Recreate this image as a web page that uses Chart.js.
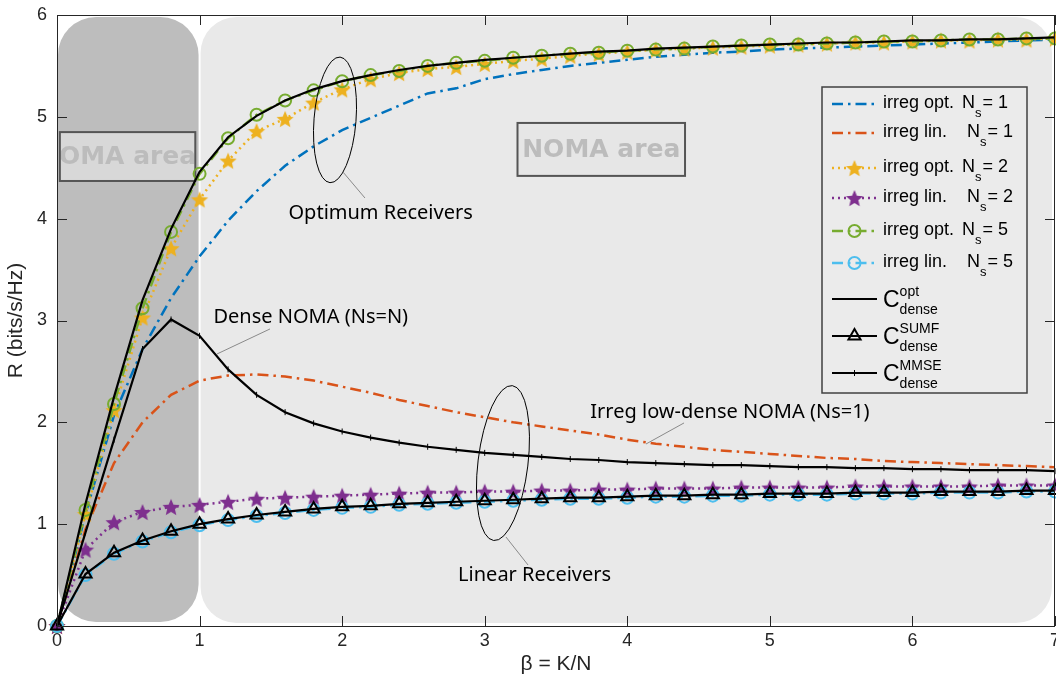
<!DOCTYPE html>
<html>
<head>
<meta charset="utf-8">
<script src="https://cdn.jsdelivr.net/npm/chart.js@4.4.1/dist/chart.umd.min.js"></script>
<style>
  html, body { margin: 0; padding: 0; background: #fff; }
  canvas { display: block; }
</style>
</head>
<body>
<canvas id="chart" width="1056" height="681"></canvas>
<script>
// beta = K/N values (markers every 0.2)
const beta = [0, 0.2, 0.4, 0.6, 0.8, 1.0, 1.2, 1.4, 1.6, 1.8, 2.0, 2.2, 2.4, 2.6, 2.8, 3.0, 3.2, 3.4,
  3.6, 3.8, 4.0, 4.2, 4.4, 4.6, 4.8, 5.0, 5.2, 5.4, 5.6, 5.8, 6.0, 6.2, 6.4, 6.6, 6.8, 7.0];

// rates R (bits/s/Hz)
const irregOptNs1 = [0, 1.10, 2.07, 2.72, 3.22, 3.63, 3.98, 4.27, 4.52, 4.71, 4.87, 4.99, 5.11, 5.23, 5.28, 5.37, 5.42, 5.46,
  5.50, 5.53, 5.56, 5.59, 5.61, 5.63, 5.64, 5.66, 5.67, 5.68, 5.69, 5.70, 5.71, 5.72, 5.73, 5.74, 5.75, 5.76];
const irregLinNs1 = [0, 0.95, 1.60, 2.00, 2.27, 2.41, 2.46, 2.47, 2.45, 2.41, 2.35, 2.29, 2.22, 2.16, 2.10, 2.05, 2.00, 1.96,
  1.92, 1.88, 1.83, 1.79, 1.76, 1.73, 1.71, 1.69, 1.67, 1.65, 1.64, 1.62, 1.61, 1.60, 1.59, 1.58, 1.57, 1.56];
const irregOptNs2 = [0, 1.10, 2.12, 3.03, 3.71, 4.19, 4.57, 4.86, 4.98, 5.14, 5.27, 5.37, 5.43, 5.47, 5.49, 5.52, 5.55, 5.57,
  5.60, 5.62, 5.64, 5.66, 5.67, 5.68, 5.69, 5.70, 5.71, 5.72, 5.73, 5.73, 5.74, 5.75, 5.75, 5.76, 5.76, 5.77];
const irregLinNs2 = [0, 0.75, 1.02, 1.12, 1.17, 1.19, 1.22, 1.25, 1.26, 1.27, 1.28, 1.29, 1.30, 1.31, 1.31, 1.32, 1.32, 1.33,
  1.33, 1.34, 1.34, 1.35, 1.35, 1.35, 1.36, 1.36, 1.36, 1.36, 1.37, 1.37, 1.37, 1.37, 1.37, 1.38, 1.38, 1.38];
const irregOptNs5 = [0, 1.14, 2.18, 3.12, 3.87, 4.44, 4.79, 5.02, 5.16, 5.26, 5.35, 5.41, 5.45, 5.50, 5.53, 5.55, 5.58, 5.60,
  5.62, 5.63, 5.65, 5.66, 5.67, 5.69, 5.70, 5.71, 5.71, 5.72, 5.73, 5.74, 5.74, 5.75, 5.76, 5.76, 5.77, 5.77];
const irregLinNs5 = [0, 0.50, 0.71, 0.83, 0.92, 0.99, 1.04, 1.08, 1.11, 1.14, 1.16, 1.17, 1.19, 1.20, 1.21, 1.22, 1.23, 1.24,
  1.25, 1.25, 1.26, 1.27, 1.27, 1.28, 1.28, 1.29, 1.29, 1.29, 1.30, 1.30, 1.30, 1.31, 1.31, 1.31, 1.32, 1.32];
const cOptDense = [0, 1.20, 2.25, 3.20, 3.90, 4.46, 4.80, 5.01, 5.16, 5.27, 5.35, 5.41, 5.46, 5.50, 5.53, 5.56, 5.58, 5.60,
  5.62, 5.64, 5.65, 5.67, 5.68, 5.69, 5.70, 5.71, 5.72, 5.73, 5.73, 5.74, 5.75, 5.75, 5.76, 5.76, 5.77, 5.78];
const cSumfDense = [0, 0.51, 0.72, 0.84, 0.93, 1.00, 1.05, 1.09, 1.12, 1.15, 1.17, 1.18, 1.20, 1.21, 1.22, 1.23, 1.24, 1.25,
  1.26, 1.26, 1.27, 1.28, 1.28, 1.29, 1.29, 1.30, 1.30, 1.30, 1.31, 1.31, 1.31, 1.32, 1.32, 1.32, 1.33, 1.33];
const cMmseDense = [0, 0.92, 1.83, 2.72, 3.01, 2.85, 2.52, 2.27, 2.10, 1.99, 1.91, 1.85, 1.80, 1.76, 1.73, 1.70, 1.68, 1.66,
  1.64, 1.63, 1.61, 1.60, 1.59, 1.58, 1.58, 1.57, 1.56, 1.56, 1.55, 1.55, 1.54, 1.54, 1.53, 1.53, 1.53, 1.52];

const xTicks = [0, 1, 2, 3, 4, 5, 6, 7];
const yTicks = [0, 1, 2, 3, 4, 5, 6];

const TICK_FONT = '"Liberation Sans", Arial, Helvetica, sans-serif';
const NOTE_FONT = '"Noto Sans", "DejaVu Sans", sans-serif';
const DASHDOT = [11, 5, 2.5, 5];
const DOTTED = [2, 4];

// filled 5-point star used as marker
function makeStar(color, r) {
  const c = document.createElement('canvas');
  const s = Math.ceil(r * 2 + 4);
  c.width = c.height = s;
  const g = c.getContext('2d');
  g.beginPath();
  for (let i = 0; i < 10; i++) {
    const a = -Math.PI / 2 + i * Math.PI / 5;
    const rr = i % 2 ? r * 0.45 : r;
    g.lineTo(s / 2 + rr * Math.cos(a), s / 2 + 1 + rr * Math.sin(a));
  }
  g.closePath();
  g.fillStyle = color;
  g.fill();
  return c;
}
const starYellow = makeStar('#EDB120', 9);
const starPurple = makeStar('#7E2F8E', 9);

const series = [
  { key: 'optNs1', data: irregOptNs1, color: '#0072BD', dash: DASHDOT, width: 2.5, marker: null },
  { key: 'linNs1', data: irregLinNs1, color: '#D95319', dash: DASHDOT, width: 2.5, marker: null },
  { key: 'optNs2', data: irregOptNs2, color: '#EDB120', dash: DOTTED, width: 2.5, marker: 'starY' },
  { key: 'linNs2', data: irregLinNs2, color: '#7E2F8E', dash: DOTTED, width: 2.5, marker: 'starP' },
  { key: 'optNs5', data: irregOptNs5, color: '#77AC30', dash: DASHDOT, width: 2.5, marker: 'circle' },
  { key: 'linNs5', data: irregLinNs5, color: '#4DBEEE', dash: DASHDOT, width: 2.5, marker: 'circle' },
  { key: 'cOpt', data: cOptDense, color: '#000000', dash: [], width: 2.2, marker: null },
  { key: 'cSumf', data: cSumfDense, color: '#000000', dash: [], width: 2.2, marker: 'triangle' },
  { key: 'cMmse', data: cMmseDense, color: '#000000', dash: [], width: 2.2, marker: 'cross' }
];

function pointOpts(m, color) {
  if (m === 'starY') return { pointStyle: starYellow, pointRadius: 9 };
  if (m === 'starP') return { pointStyle: starPurple, pointRadius: 9 };
  if (m === 'circle') return { pointStyle: 'circle', pointRadius: 6, pointBorderWidth: 2, pointBackgroundColor: 'rgba(0,0,0,0)', pointBorderColor: color };
  if (m === 'triangle') return { pointStyle: 'triangle', pointRadius: 7, pointBorderWidth: 2, pointBackgroundColor: 'rgba(0,0,0,0)', pointBorderColor: color };
  if (m === 'cross') return { pointStyle: 'line', rotation: 90, pointRadius: 3, pointBorderWidth: 1, pointBorderColor: color };
  return { pointRadius: 0 };
}

const datasets = series.map((s, i) => Object.assign({
  label: s.key,
  data: beta.map((b, j) => ({ x: b, y: s.data[j] })),
  borderColor: s.color,
  borderWidth: s.width,
  borderDash: s.dash,
  tension: 0,
  fill: false,
  clip: false,
  order: series.length - i
}, pointOpts(s.marker, s.color)));

// annotation items in data coordinates
const areaBoxes = [
  { text: 'OMA area', x0: 0.02, x1: 0.97, y0: 4.85, y1: 4.37, fill: '#d8d8d8' },
  { text: 'NOMA area', x0: 3.23, x1: 4.405, y0: 4.94, y1: 4.42, fill: '#e6e6e6' }
];
const notes = [
  { text: 'Optimum Receivers', x: 2.27, y: 4.05 },
  { text: 'Dense NOMA (Ns=N)', x: 1.78, y: 3.03 },
  { text: 'Irreg low-dense NOMA (Ns=1)', x: 4.72, y: 2.10 },
  { text: 'Linear Receivers', x: 3.35, y: 0.50 }
];
const leaders = [
  [2.006, 4.458, 2.160, 4.203],
  [1.494, 2.917, 1.122, 2.671],
  [4.398, 1.994, 4.131, 1.787],
  [3.149, 0.874, 3.304, 0.599]
];
const ellipses = [
  { x: 1.95, y: 4.97, rx: 21, ry: 63, rot: 0.08 },
  { x: 3.128, y: 1.60, rx: 25, ry: 78, rot: 0.12 }
];

function roundRect(ctx, x, y, w, h, r) {
  ctx.beginPath();
  ctx.moveTo(x + r, y);
  ctx.arcTo(x + w, y, x + w, y + h, r);
  ctx.arcTo(x + w, y + h, x, y + h, r);
  ctx.arcTo(x, y + h, x, y, r);
  ctx.arcTo(x, y, x + w, y, r);
  ctx.closePath();
}

const backgroundPlugin = {
  id: 'regions',
  beforeDatasetsDraw(chart) {
    const { ctx, chartArea: a, scales: { x, y } } = chart;
    const x1 = x.getPixelForValue(1);
    ctx.save();
    ctx.fillStyle = '#bdbdbd';
    roundRect(ctx, a.left + 1, a.top + 2, x1 - a.left - 2, a.bottom - a.top - 6, 38);
    ctx.fill();
    ctx.fillStyle = '#e9e9e9';
    roundRect(ctx, x1 + 1, a.top + 2, a.right - x1 - 4, a.bottom - a.top - 5, 36);
    ctx.fill();

    areaBoxes.forEach(b => {
      const l = x.getPixelForValue(b.x0), r = x.getPixelForValue(b.x1);
      const t = y.getPixelForValue(b.y0), btm = y.getPixelForValue(b.y1);
      ctx.fillStyle = b.fill;
      ctx.fillRect(l, t, r - l, btm - t);
      ctx.save();
      ctx.beginPath();
      ctx.rect(l, t, r - l, btm - t);
      ctx.clip();
      ctx.fillStyle = '#bcbcbc';
      ctx.font = 'bold 25px "DejaVu Sans", Verdana, sans-serif';
      ctx.textAlign = 'center';
      ctx.textBaseline = 'middle';
      ctx.fillText(b.text, (l + r) / 2, (t + btm) / 2 + 1);
      ctx.restore();
      ctx.strokeStyle = '#555555';
      ctx.lineWidth = 2;
      ctx.strokeRect(l, t, r - l, btm - t);
    });
    ctx.restore();
  },
  afterDatasetsDraw(chart) {
    const { ctx, scales: { x, y } } = chart;
    ctx.save();
    ctx.strokeStyle = '#000';
    ctx.lineWidth = 1;
    ellipses.forEach(e => {
      ctx.beginPath();
      ctx.ellipse(x.getPixelForValue(e.x), y.getPixelForValue(e.y), e.rx, e.ry, e.rot, 0, Math.PI * 2);
      ctx.stroke();
    });
    ctx.strokeStyle = '#8a8a8a';
    leaders.forEach(l => {
      ctx.beginPath();
      ctx.moveTo(x.getPixelForValue(l[0]), y.getPixelForValue(l[1]));
      ctx.lineTo(x.getPixelForValue(l[2]), y.getPixelForValue(l[3]));
      ctx.stroke();
    });
    ctx.fillStyle = '#000';
    ctx.font = '20px ' + NOTE_FONT;
    ctx.textAlign = 'center';
    ctx.textBaseline = 'middle';
    notes.forEach(n => ctx.fillText(n.text, x.getPixelForValue(n.x), y.getPixelForValue(n.y)));
    ctx.restore();
  }
};

// legend entries (drawn by hand to get the sub/superscripts)
const legendEntries = [
  { pre: 'irreg opt.', nOff: 79, ns: '1', y: 104 },
  { pre: 'irreg lin.', nOff: 84, ns: '1', y: 133 },
  { pre: 'irreg opt.', nOff: 79, ns: '2', y: 168 },
  { pre: 'irreg lin.', nOff: 84, ns: '2', y: 198 },
  { pre: 'irreg opt.', nOff: 79, ns: '5', y: 231 },
  { pre: 'irreg lin.', nOff: 84, ns: '5', y: 263 },
  { sup: 'opt', y: 299 },
  { sup: 'SUMF', y: 336 },
  { sup: 'MMSE', y: 373 }
];

function drawMarker(ctx, m, color, cx, cy) {
  ctx.save();
  ctx.setLineDash([]);
  if (m === 'starY' || m === 'starP') {
    const img = m === 'starY' ? starYellow : starPurple;
    ctx.drawImage(img, cx - img.width / 2, cy - img.height / 2);
  } else if (m === 'circle') {
    ctx.strokeStyle = color; ctx.lineWidth = 2;
    ctx.beginPath(); ctx.arc(cx, cy, 6, 0, Math.PI * 2); ctx.stroke();
  } else if (m === 'triangle') {
    ctx.strokeStyle = color; ctx.lineWidth = 2;
    const r = 7;
    ctx.beginPath();
    ctx.moveTo(cx, cy - r);
    ctx.lineTo(cx + r * 0.866, cy + r * 0.5);
    ctx.lineTo(cx - r * 0.866, cy + r * 0.5);
    ctx.closePath(); ctx.stroke();
  } else if (m === 'cross') {
    ctx.strokeStyle = color; ctx.lineWidth = 1;
    ctx.beginPath(); ctx.moveTo(cx, cy - 3); ctx.lineTo(cx, cy + 3); ctx.stroke();
  }
  ctx.restore();
}

const framePlugin = {
  id: 'frameAndLegend',
  afterDraw(chart) {
    const { ctx, chartArea: a, scales: { x, y } } = chart;
    ctx.save();
    // axes box with inward ticks
    ctx.strokeStyle = '#262626';
    ctx.lineWidth = 1;
    ctx.strokeRect(a.left + 0.5, a.top + 0.5, a.right - a.left - 1, a.bottom - a.top);
    ctx.beginPath();
    xTicks.forEach(v => {
      const px = Math.round(x.getPixelForValue(v)) + 0.5;
      ctx.moveTo(px, a.bottom); ctx.lineTo(px, a.bottom - 10);
      ctx.moveTo(px, a.top); ctx.lineTo(px, a.top + 10);
    });
    yTicks.forEach(v => {
      const py = Math.round(y.getPixelForValue(v)) + 0.5;
      ctx.moveTo(a.left, py); ctx.lineTo(a.left + 10, py);
      ctx.moveTo(a.right, py); ctx.lineTo(a.right - 10, py);
    });
    ctx.stroke();
    // x tick labels (drawn here so the last one does not pad the plot area)
    ctx.fillStyle = '#262626';
    ctx.font = '18px ' + TICK_FONT;
    ctx.textAlign = 'center';
    ctx.textBaseline = 'middle';
    xTicks.forEach(v => ctx.fillText(String(v), x.getPixelForValue(v), a.bottom + 15));

    // legend
    const L = 822, T = 87, R = 1027, B = 393;
    ctx.fillStyle = '#ebebeb';
    ctx.fillRect(L, T, R - L, B - T);
    ctx.strokeStyle = '#404040';
    ctx.lineWidth = 1.5;
    ctx.strokeRect(L, T, R - L, B - T);
    const x0 = 883;
    legendEntries.forEach((e, i) => {
      const s = series[i];
      ctx.save();
      ctx.strokeStyle = s.color;
      ctx.lineWidth = s.width;
      ctx.setLineDash(s.dash);
      ctx.beginPath(); ctx.moveTo(832, e.y); ctx.lineTo(877, e.y); ctx.stroke();
      ctx.restore();
      drawMarker(ctx, s.marker, s.color, 854.5, e.y);
      ctx.fillStyle = '#000';
      ctx.textAlign = 'left';
      ctx.textBaseline = 'alphabetic';
      if (e.pre) {
        ctx.font = '18px ' + TICK_FONT;
        ctx.fillText(e.pre, x0, e.y + 4);
        const nx = x0 + e.nOff;
        ctx.fillText('N', nx, e.y + 4);
        const sx = nx + ctx.measureText('N').width;
        ctx.font = '13px ' + TICK_FONT;
        ctx.fillText('s', sx, e.y + 13);
        const ex = sx + ctx.measureText('s').width + 1;
        ctx.font = '18px ' + TICK_FONT;
        ctx.fillText('= ' + e.ns, ex, e.y + 4);
      } else {
        ctx.font = '23px ' + TICK_FONT;
        ctx.fillText('C', x0, e.y + 8);
        const cx = x0 + ctx.measureText('C').width;
        ctx.font = '14px ' + TICK_FONT;
        ctx.fillText(e.sup, cx, e.y - 3);
        ctx.fillText('dense', cx, e.y + 15);
      }
    });
    ctx.restore();
  }
};

new Chart(document.getElementById('chart').getContext('2d'), {
  type: 'line',
  data: { datasets: datasets },
  options: {
    responsive: false,
    animation: false,
    layout: { autoPadding: false, padding: { top: 15, right: 1, left: 0, bottom: 0 } },
    plugins: { legend: { display: false }, tooltip: { enabled: false } },
    scales: {
      x: {
        type: 'linear',
        min: 0,
        max: 7,
        afterBuildTicks: s => { s.ticks = xTicks.map(v => ({ value: v })); },
        ticks: { display: false },
        grid: { display: false, drawTicks: false },
        border: { display: false },
        title: { display: true, text: 'β = K/N', font: { family: TICK_FONT, size: 21 }, color: '#262626', padding: { top: 0, bottom: 4 } },
        afterFit: s => { s.height = 55; s.paddingLeft = 0; s.paddingRight = 0; }
      },
      y: {
        type: 'linear',
        min: 0,
        max: 6,
        afterBuildTicks: s => { s.ticks = yTicks.map(v => ({ value: v })); },
        ticks: { font: { family: TICK_FONT, size: 18 }, color: '#262626', padding: 10 },
        grid: { display: false, drawTicks: false },
        border: { display: false },
        title: { display: true, text: 'R (bits/s/Hz)', font: { family: TICK_FONT, size: 21 }, color: '#262626', padding: { top: 4, bottom: 0 } },
        afterFit: s => { s.width = 57; s.paddingTop = 0; s.paddingBottom = 0; }
      }
    }
  },
  plugins: [backgroundPlugin, framePlugin]
});
</script>
</body>
</html>
